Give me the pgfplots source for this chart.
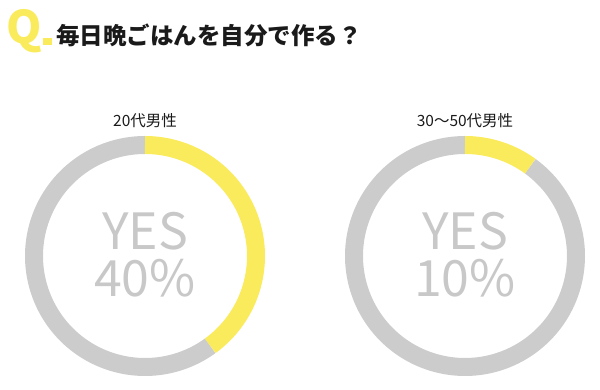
\documentclass[border=0pt]{standalone}
\usepackage{fontspec}
\usepackage{pgfplots}
\usepackage{pgfplotstable}
\pgfplotsset{compat=1.18}
\setmainfont{Noto Sans CJK JP}
\definecolor{yel}{HTML}{FAEB5C}
\definecolor{ring}{HTML}{CCCCCC}
\definecolor{txtgray}{HTML}{C8C8C8}
\definecolor{dark}{HTML}{1A1A1A}

% share answering YES / NO (percent)
\pgfplotstableread{
group yes no
0 40 60
1 10 90
}\donutdata
\pgfplotstablegetelem{0}{yes}\of\donutdata \let\yesA\pgfplotsretval
\pgfplotstablegetelem{1}{yes}\of\donutdata \let\yesB\pgfplotsretval

\begin{document}
\begin{tikzpicture}
\begin{axis}[
  width=600pt, height=390pt, scale only axis,
  xmin=0, xmax=600, ymin=0, ymax=390,
  hide axis, clip=false,
]
% left donut: 20代男性
\addplot[domain={90-3.6*\yesA}:{-270}, samples=150, line width=18pt, draw=ring] ({145+111*cos(x)},{134+111*sin(x)});
\addplot[domain=90:{90-3.6*\yesA}, samples=100, line width=18pt, draw=yel] ({145+111*cos(x)},{134+111*sin(x)});
% right donut: 30~50代男性
\addplot[domain={90-3.6*\yesB}:{-270}, samples=150, line width=18pt, draw=ring] ({465+111*cos(x)},{134+111*sin(x)});
\addplot[domain=90:{90-3.6*\yesB}, samples=40, line width=18pt, draw=yel] ({465+111*cos(x)},{134+111*sin(x)});

% title
\node[anchor=base west, inner sep=0, text=yel] at (axis cs:6,346) {\fontsize{45}{45}\selectfont\bfseries Q};
\node[anchor=south west, inner sep=0, text=yel] at (axis cs:43,345) {\rule{8.5pt}{7pt}};
\node[anchor=base west, inner sep=0, text=dark] at (axis cs:56,345) {\fontsize{23.5}{23.5}\selectfont\bfseries 毎日晩ごはんを自分で作る？};

% group labels
\node[anchor=base, inner sep=0, text=dark] at (axis cs:145,263.5) {\fontsize{15.5}{15.5}\selectfont 20代男性};
\node[anchor=base, inner sep=0, text=dark] at (axis cs:465,263.5) {\fontsize{15.5}{15.5}\selectfont 30〜50代男性};

% centre texts
\node[anchor=base, inner sep=0, text=txtgray] at (axis cs:145,140) {\fontsize{50}{50}\selectfont YES};
\node[anchor=base, inner sep=0, text=txtgray] at (axis cs:145,93) {\fontsize{50}{50}\selectfont \yesA\%};
\node[anchor=base, inner sep=0, text=txtgray] at (axis cs:465,140) {\fontsize{50}{50}\selectfont YES};
\node[anchor=base, inner sep=0, text=txtgray] at (axis cs:465,93) {\fontsize{50}{50}\selectfont \yesB\%};
\end{axis}
\pgfresetboundingbox
\path (current axis.south west) rectangle (current axis.north east);
\end{tikzpicture}
\end{document}
